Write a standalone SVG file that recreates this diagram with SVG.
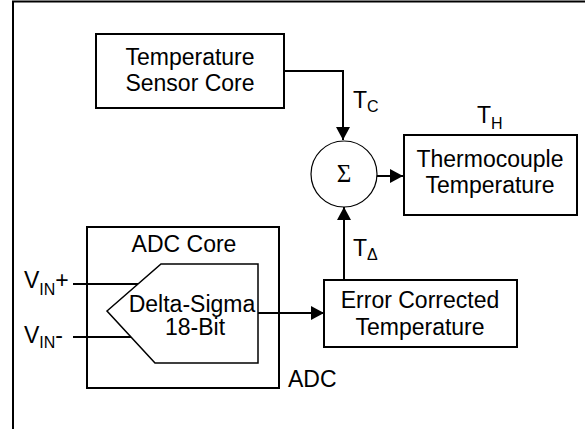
<svg xmlns="http://www.w3.org/2000/svg" width="585" height="429" viewBox="0 0 585 429">
<style>
.box{fill:#fff;stroke:#000;stroke-width:2}
.t{font-family:"Liberation Sans",Arial,sans-serif;font-size:23px;fill:#000}
.m{text-anchor:middle}
.sub{font-size:16px}
.ln{fill:none;stroke:#000;stroke-width:2}
</style>
<defs>
<marker id="ah" markerWidth="13" markerHeight="14" refX="13" refY="7" orient="auto" markerUnits="userSpaceOnUse">
<path d="M0,0 L13,7 L0,14 Z" fill="#000"/>
</marker>
</defs>
<rect width="585" height="429" fill="#fff"/>
<g id="frame"><path d="M13,429 V1.5 H585" class="ln" stroke-width="3"/></g>
<g id="sensor">
<rect class="box" x="96" y="34" width="188" height="74"/>
<text class="t m" x="190" y="65">Temperature</text>
<text class="t m" x="190" y="91">Sensor Core</text>
</g>
<g id="sum">
<circle cx="344" cy="174" r="33" fill="#fff" stroke="#000" stroke-width="1.2"/>
<text x="344" y="182" text-anchor="middle" font-family="'Liberation Serif','Times New Roman',serif" font-size="25">Σ</text>
</g>
<g id="thermo">
<rect class="box" x="404" y="135" width="173" height="80"/>
<text class="t m" x="490" y="167">Thermocouple</text>
<text class="t m" x="490" y="193">Temperature</text>
</g>
<g id="error">
<rect class="box" x="324" y="280" width="193" height="67"/>
<text class="t m" x="420" y="308">Error Corrected</text>
<text class="t m" x="420" y="335">Temperature</text>
</g>
<g id="adc">
<rect class="box" x="87" y="227" width="192" height="161"/>
<text class="t m" x="184" y="252">ADC Core</text>
<text class="t" x="288" y="387">ADC</text>
</g>
<g id="deltasigma">
<path d="M161,264 H258 V363 H155 L107,311 Z" fill="#fff" stroke="#000" stroke-width="1.5"/>
<text class="t m" x="192" y="312">Delta-Sigma</text>
<text class="t m" x="195" y="335">18-Bit</text>
</g>
<g id="connectors">
<path d="M284,71 H343 V140" class="ln" marker-end="url(#ah)"/>
<path d="M377,176 H403" class="ln" marker-end="url(#ah)"/>
<path d="M344,280 V207" class="ln" marker-end="url(#ah)"/>
<path d="M258,313 H324" class="ln" marker-end="url(#ah)"/>
<path d="M73,284 H138" class="ln"/>
<path d="M73,337 H131" class="ln"/>
</g>
<g id="labels">
<text class="t" x="353" y="108">T<tspan class="sub" dy="4">C</tspan></text>
<text class="t" x="477" y="123">T<tspan class="sub" dy="6">H</tspan></text>
<text class="t" x="353" y="256">T<tspan class="sub" dy="4">Δ</tspan></text>
<text class="t" x="24" y="288">V<tspan class="sub" dy="7">IN</tspan><tspan dy="-7">+</tspan></text>
<text class="t" x="24" y="343">V<tspan class="sub" dy="5">IN</tspan><tspan dy="-5">-</tspan></text>
</g>
</svg>
